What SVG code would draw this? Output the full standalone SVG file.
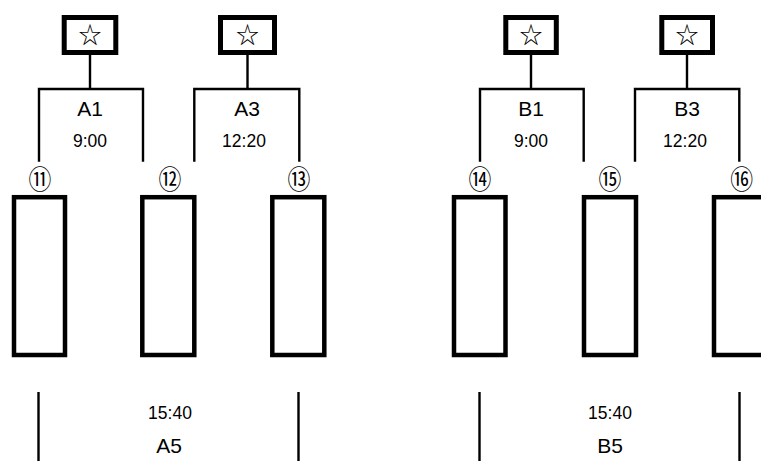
<svg xmlns="http://www.w3.org/2000/svg" width="761" height="461" viewBox="0 0 761 461">
<style>
.box{fill:#fff;stroke:#000;stroke-width:5}
.slot{fill:none;stroke:#000;stroke-width:4.5}
.ln{fill:none;stroke:#000;stroke-width:2.4}
.star{font-family:"Noto Sans CJK JP","DejaVu Sans",sans-serif;font-size:23px;text-anchor:middle;fill:#000}
.lbl{font-family:"Liberation Sans",Arial,sans-serif;font-size:21px;text-anchor:middle;fill:#000}
.time{font-family:"Liberation Sans",Arial,sans-serif;font-size:17.5px;text-anchor:middle;fill:#000}
.num{font-family:"Noto Sans CJK JP","DejaVu Sans",sans-serif;font-size:26px;text-anchor:middle;fill:#000}
</style>
<rect width="761" height="461" fill="#fff"/>
<g id="connectors">
<path class="ln" d="M90,55V89M39,161.7V89H143V161.7"/>
<path class="ln" d="M247.5,55V89M194.3,161.7V89H299.3V161.7"/>
<path class="ln" d="M531,55V89M480,161.7V89H583.7V161.7"/>
<path class="ln" d="M687,55V89M635,161.7V89H739.3V161.7"/>
<path class="ln" d="M38.5,392V461M298.5,392V461M479.5,392V461M739.5,392V461"/>
</g>
<g id="star-A1"><rect class="box" x="64.2" y="17.5" width="51.6" height="35"/><text class="star" x="90" y="43">☆</text></g>
<g id="star-A3"><rect class="box" x="220.5" y="17.5" width="54" height="35"/><text class="star" x="247.5" y="43">☆</text></g>
<g id="star-B1"><rect class="box" x="505.8" y="17.5" width="50.5" height="35"/><text class="star" x="531" y="43">☆</text></g>
<g id="star-B3"><rect class="box" x="661.8" y="17.5" width="50.7" height="35"/><text class="star" x="687" y="43">☆</text></g>
<g id="label-A1"><text class="lbl" x="90" y="116">A1</text><text class="time" x="90" y="147">9:00</text></g>
<g id="label-A3"><text class="lbl" x="247" y="116">A3</text><text class="time" x="244" y="147">12:20</text></g>
<g id="label-B1"><text class="lbl" x="531" y="116">B1</text><text class="time" x="531" y="147">9:00</text></g>
<g id="label-B3"><text class="lbl" x="687" y="116">B3</text><text class="time" x="685" y="147">12:20</text></g>
<g id="slot-11"><text class="num" transform="translate(40,189) scale(0.88,1)">⑪</text><rect class="slot" x="14" y="197.2" width="51" height="157.8"/></g>
<g id="slot-12"><text class="num" transform="translate(170,189) scale(0.88,1)">⑫</text><rect class="slot" x="142.3" y="197.2" width="52" height="157.8"/></g>
<g id="slot-13"><text class="num" transform="translate(299,189) scale(0.88,1)">⑬</text><rect class="slot" x="272.3" y="197.2" width="52" height="157.8"/></g>
<g id="slot-14"><text class="num" transform="translate(480,189) scale(0.88,1)">⑭</text><rect class="slot" x="454" y="197.2" width="51.5" height="157.8"/></g>
<g id="slot-15"><text class="num" transform="translate(610,189) scale(0.88,1)">⑮</text><rect class="slot" x="584" y="197.2" width="52" height="157.8"/></g>
<g id="slot-16"><text class="num" transform="translate(741.7,189) scale(0.88,1)">⑯</text><rect class="slot" x="714" y="197.2" width="52" height="157.8"/></g>
<g id="label-A5"><text class="time" x="170" y="419">15:40</text><text class="lbl" x="169" y="453">A5</text></g>
<g id="label-B5"><text class="time" x="610" y="419">15:40</text><text class="lbl" x="610" y="453">B5</text></g>
</svg>
